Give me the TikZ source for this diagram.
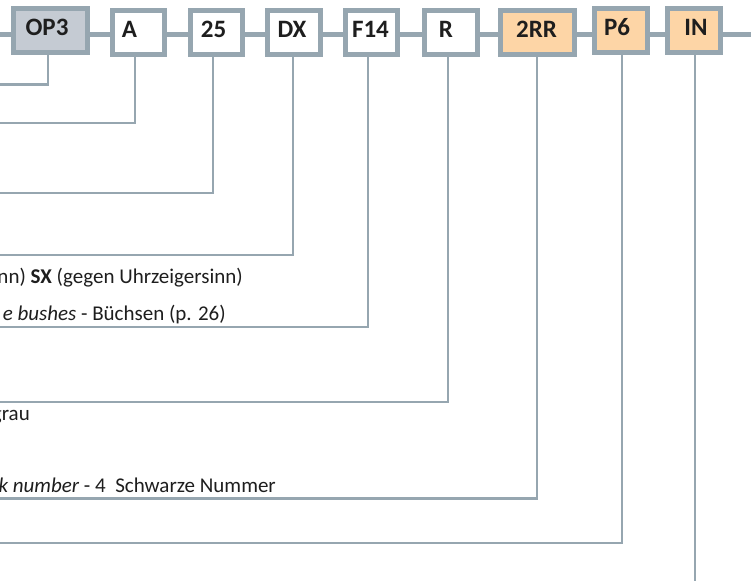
\documentclass[tikz,border=0pt]{standalone}
\usepackage{fontspec}
\setmainfont{Carlito}
\definecolor{frame}{RGB}{150,166,176}
\definecolor{opfill}{RGB}{197,203,211}
\definecolor{peach}{RGB}{253,213,166}
\definecolor{ink}{RGB}{30,30,30}
\newcommand\lsh[1]{\hspace*{#1pt}}
\begin{document}
\begin{tikzpicture}[x=1pt,y=-1pt,
  codebox/.style={draw=frame,line width=5pt,inner sep=0pt,minimum height=44pt,
    font=\fontsize{25}{25}\selectfont\bfseries,text=ink,text height=17pt,text depth=6pt},
  narrowbox/.style={codebox,minimum width=52.5pt,fill=white},
  widebox/.style={codebox,minimum width=74pt},
  chainline/.style={draw=frame,line width=5pt},
  leadline/.style={draw=frame,line width=2.6pt},
  desc/.style={anchor=base east,inner sep=0pt,font=\fontsize{21}{25}\selectfont,text=ink}]
\useasboundingbox (0,0) rectangle (751,580);
\clip (0,0) rectangle (751,580);
\fill[white] (0,0) rectangle (751,580);

% code boxes
\node[widebox,fill=opfill]  (OP3) at (50.5,30.3) {\lsh{-7}OP3};
\node[narrowbox]            (A)   at (138.5,32.5) {\lsh{-18}A};
\node[narrowbox]            (n25) at (216.5,32.5) {\lsh{-6}25};
\node[narrowbox]            (DX)  at (294,32.5) {\lsh{-4}DX};
\node[narrowbox]            (F14) at (371.5,32.5) {\lsh{-2}F14};
\node[narrowbox]            (R)   at (451,32.5) {\lsh{-10}R};
\node[widebox,fill=peach]   (RR)  at (537.5,32.5) {\lsh{-2}2RR};
\node[narrowbox,fill=peach] (P6)  at (621,30.5) {\lsh{-8}P6};
\node[narrowbox,fill=peach] (IN)  at (694,30.5) {\lsh{4}IN};

% chain
\coordinate (cl) at (0,35);
\coordinate (cr) at (751,35);
\draw[chainline] (cl) -- (OP3.west |- cl);
\foreach \p/\q in {OP3/A,A/n25,n25/DX,DX/F14,F14/R,R/RR,RR/P6,P6/IN}
  \draw[chainline] (\p.east |- cl) -- (\q.west |- cl);
\draw[chainline] (IN.east |- cr) -- (cr);

% leads
\foreach \n/\x/\y in {OP3/48/84.5,A/135/123,n25/213/193,DX/293/255,F14/368/327,R/448/402,RR/537/498.5,P6/622/543}{
  \coordinate (k\n) at (\x,\y);
  \coordinate (e\n) at (-3,\y);
  \draw[leadline] (\n.south -| k\n) -- (k\n) -- (e\n);
}
\coordinate (eIN) at (695,585);
\draw[leadline] (IN.south -| eIN) -- (eIN);

% descriptions
\node[desc] (t1) at (243,283) {nn) \textbf{SX} (gegen Uhrzeigersinn)};
\node[desc] (t2) at (226,320) {\textit{e bushes} - Büchsen (p. 26)};
\node[desc] (t3) at (30,420) {grau};
\node[desc] (t4) at (276,492) {\textit{k number} - 4\ \ Schwarze Nummer};
\end{tikzpicture}
\end{document}
